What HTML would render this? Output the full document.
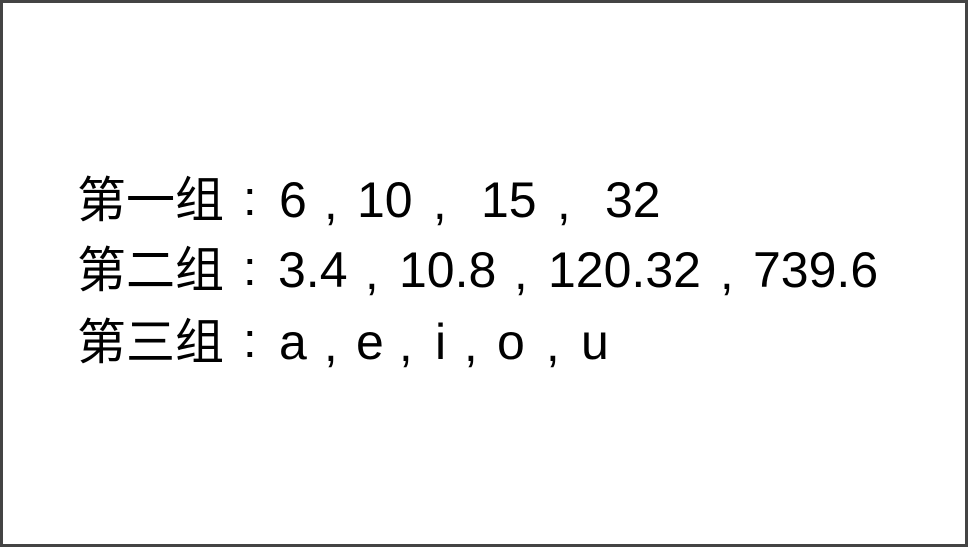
<!DOCTYPE html>
<html><head><meta charset="utf-8"><style>
html,body{margin:0;padding:0;background:#fff}
svg{display:block}
text{font-family:"Liberation Sans","Noto Sans CJK SC",sans-serif;font-size:49px;fill:#000}
.d{font-size:50px}
</style></head><body>
<svg width="968" height="547" xmlns="http://www.w3.org/2000/svg">
<rect x="1.5" y="1.5" width="965" height="544" fill="#fff" stroke="#444" stroke-width="3"/>
<g>
<text x="77" y="217">第一组</text><text x="243" y="215">:</text>
<text class="d" x="279" y="217">6</text><text x="324" y="219">,</text>
<text class="d" x="357" y="217">10</text><text x="433" y="219">,</text>
<text class="d" x="481" y="217">15</text><text x="557" y="219">,</text>
<text class="d" x="605" y="217">32</text>

<text x="77" y="287">第二组</text><text x="243" y="285">:</text>
<text class="d" x="278" y="287">3.4</text><text x="365" y="289">,</text>
<text class="d" x="399" y="287">10.8</text><text x="514" y="289">,</text>
<text class="d" x="548" y="287">120.32</text><text x="720" y="289">,</text>
<text class="d" x="753" y="287">739.6</text>

<text x="77" y="359">第三组</text><text x="243" y="357">:</text>
<text class="d" x="279" y="359">a</text><text x="324" y="361">,</text>
<text class="d" x="356" y="359">e</text><text x="399" y="361">,</text>
<text class="d" x="435" y="359">i</text><text x="464" y="361">,</text>
<text class="d" x="497" y="359">o</text><text x="546" y="361">,</text>
<text class="d" x="581" y="359">u</text>
</g>
</svg>
</body></html>
